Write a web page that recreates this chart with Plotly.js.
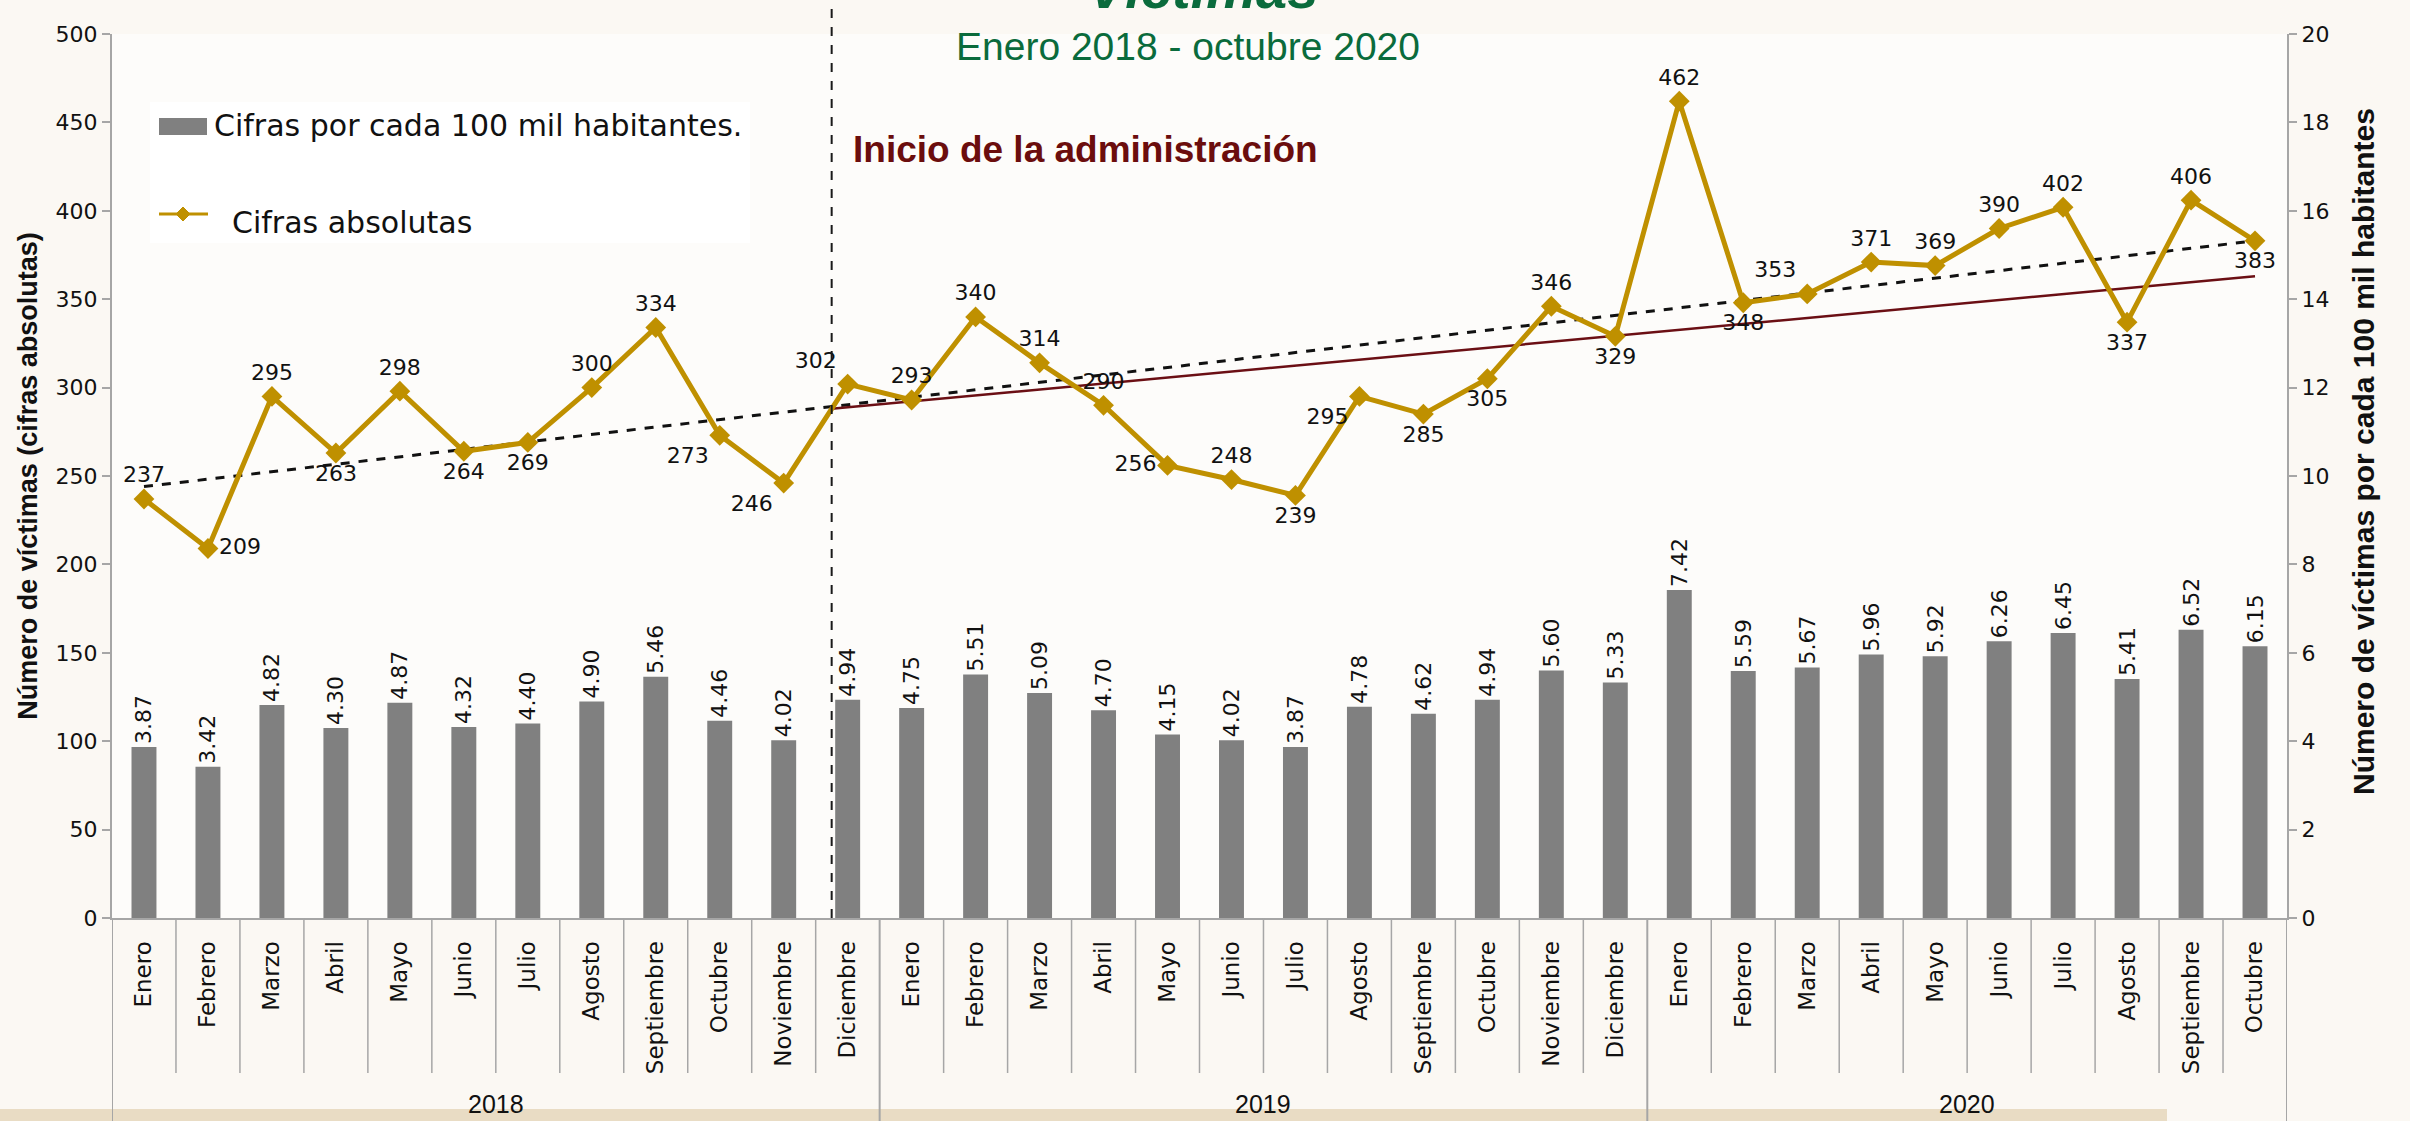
<!DOCTYPE html>
<html>
<head>
<meta charset="utf-8">
<script src="https://cdn.plot.ly/plotly-3.0.1.min.js"></script>
<style>html,body{margin:0;padding:0;background:#fbf8f3;}</style>
</head>
<body>
<div id="chart" style="width:2410px;height:1121px;"></div>
<script>
// ---- Data ----
const months = [
  "Enero","Febrero","Marzo","Abril","Mayo","Junio","Julio","Agosto","Septiembre","Octubre","Noviembre","Diciembre",
  "Enero","Febrero","Marzo","Abril","Mayo","Junio","Julio","Agosto","Septiembre","Octubre","Noviembre","Diciembre",
  "Enero","Febrero","Marzo","Abril","Mayo","Junio","Julio","Agosto","Septiembre","Octubre"
];
const years = [
  "2018","2018","2018","2018","2018","2018","2018","2018","2018","2018","2018","2018",
  "2019","2019","2019","2019","2019","2019","2019","2019","2019","2019","2019","2019",
  "2020","2020","2020","2020","2020","2020","2020","2020","2020","2020"
];
const cifrasAbsolutas = [
  237,209,295,263,298,264,269,300,334,273,246,302,
  293,340,314,290,256,248,239,295,285,305,346,329,
  462,348,353,371,369,390,402,337,406,383
];
const cifrasPor100mil = [
  3.87,3.42,4.82,4.30,4.87,4.32,4.40,4.90,5.46,4.46,4.02,4.94,
  4.75,5.51,5.09,4.70,4.15,4.02,3.87,4.78,4.62,4.94,5.60,5.33,
  7.42,5.59,5.67,5.96,5.92,6.26,6.45,5.41,6.52,6.15
];
const labelPositions = [
  "top center","middle right","top center","bottom center","top center","bottom center","bottom center","top center","top center","bottom left","bottom left","top left",
  "top center","top center","top center","top center","middle left","top center","bottom center","bottom left","bottom center","bottom center","top center","bottom center",
  "top center","bottom center","top left","top center","top center","top center","top center","bottom center","top center","bottom center"
];
const seriesNames = ["Cifras por cada 100 mil habitantes.", "Cifras absolutas"];
// Trend lines (values read at their end points)
const trendAllY = [244, 383];
const trendAdminY = [288, 363];
const adminStartIndex = 10.75;  // position of "Inicio de la administración" marker, in month-index units

// ---- Build ----
const idx = months.map((m, i) => i);
const lastIdx = idx[idx.length - 1];

// pixel -> paper helpers (plot area: x 112..2287, y 34..918)
const PX = px => (px - 112) / 2175;
const PY = py => (918 - py) / 884;

const GOLD = '#BF9000', BARGRAY = '#808080', AXISGRAY = '#a6a6a6';

const shapes = [];
// bottom beige band
shapes.push({type:'rect', xref:'paper', yref:'paper', x0:PX(0), x1:PX(2167), y0:PY(1109), y1:PY(1125),
  fillcolor:'#e9dcc4', line:{width:0}, layer:'below'});
// separators between months and years
idx.forEach(i => {
  const isYearStart = (i === 0) || (years[i] !== years[i-1]);
  shapes.push({type:'line', xref:'x', yref:'paper', x0:i-0.5, x1:i-0.5, y0:0, y1: isYearStart ? PY(1121) : PY(1073),
    line:{color:AXISGRAY, width: isYearStart ? 2 : 1.5}});
});
shapes.push({type:'line', xref:'x', yref:'paper', x0:lastIdx+0.5, x1:lastIdx+0.5, y0:0, y1:PY(1121), line:{color:AXISGRAY, width:2}});
// administration start dashed line
shapes.push({type:'line', xref:'x', yref:'paper', x0:adminStartIndex, x1:adminStartIndex, y0:0, y1:PY(0),
  line:{color:'#1a1a1a', width:2, dash:'dash'}});

// legend (drawn to match the reference's swatches)
shapes.push({type:'rect', xref:'paper', yref:'paper', x0:PX(150), x1:PX(750), y0:PY(243), y1:PY(102),
  fillcolor:'rgba(255,255,255,0.85)', line:{width:0}});
shapes.push({type:'rect', xref:'paper', yref:'paper', x0:PX(159), x1:PX(207), y0:PY(135), y1:PY(118),
  fillcolor:BARGRAY, line:{width:0}});
shapes.push({type:'line', xref:'paper', yref:'paper', x0:PX(159), x1:PX(208), y0:PY(214), y1:PY(214),
  line:{color:GOLD, width:3}});
(function(){
  const cx = 183, cy = 214, h = 7;
  shapes.push({type:'path', xref:'paper', yref:'paper',
    path:`M ${PX(cx)},${PY(cy-h)} L ${PX(cx+h)},${PY(cy)} L ${PX(cx)},${PY(cy+h)} L ${PX(cx-h)},${PY(cy)} Z`,
    fillcolor:GOLD, line:{color:GOLD, width:1}});
})();

// year labels
const yearAnnotations = [];
[...new Set(years)].forEach(y => {
  const first = years.indexOf(y), last = years.lastIndexOf(y);
  yearAnnotations.push({xref:'x', yref:'paper', x:(first+last)/2, y:PY(1104), text:y, showarrow:false,
    xanchor:'center', yanchor:'middle', font:{family:'Liberation Sans, Arial', size:25, color:'#111'}});
});

const traces = [
  {
    type:'bar', name:seriesNames[0], showlegend:false,
    x: idx, y: cifrasPor100mil, yaxis:'y', width:0.39,
    marker:{color:BARGRAY},
    text: cifrasPor100mil.map(v => v.toFixed(2)), textposition:'outside', textangle:-90, constraintext:'none',
    textfont:{family:'DejaVu Sans', size:22, color:'#111'}, cliponaxis:false, hoverinfo:'skip'
  },
  {
    type:'scatter', mode:'lines', x:[idx[0], lastIdx], y: trendAllY, yaxis:'y2',
    line:{color:'#111', width:3, dash:'dash'}, showlegend:false, hoverinfo:'skip'
  },
  {
    type:'scatter', mode:'lines', x:[adminStartIndex, lastIdx], y: trendAdminY, yaxis:'y2',
    line:{color:'#6b0f14', width:2.5}, showlegend:false, hoverinfo:'skip'
  },
  {
    type:'scatter', mode:'lines+markers+text', name:seriesNames[1], showlegend:false,
    x: idx, y: cifrasAbsolutas, yaxis:'y2',
    line:{color:GOLD, width:5},
    marker:{symbol:'diamond', size:16, color:GOLD},
    text: cifrasAbsolutas.map(String), textposition: labelPositions,
    textfont:{family:'DejaVu Sans', size:22, color:'#111'}, cliponaxis:false, hoverinfo:'skip'
  }
];

const axisCommon = {
  showline:true, linecolor:AXISGRAY, linewidth:2, ticks:'outside', ticklen:8, tickwidth:2, tickcolor:AXISGRAY,
  tickfont:{family:'DejaVu Sans', size:22, color:'#111'}, showgrid:false, zeroline:false
};

const layout = {
  width:2410, height:1121,
  margin:{l:112, r:123, t:34, b:203},
  paper_bgcolor:'#fbf8f3', plot_bgcolor:'rgba(255,255,255,0.55)',
  showlegend:false,
  xaxis:{type:'linear', range:[-0.5, lastIdx+0.5], tickmode:'array', tickvals:idx, ticktext:months,
    tickangle:-90, tickfont:{family:'DejaVu Sans', size:23, color:'#111'}, ticklabelstandoff:12,
    showline:true, linecolor:AXISGRAY, linewidth:2, ticks:'', showgrid:false, zeroline:false},
  yaxis:Object.assign({}, axisCommon, {range:[0,20], tick0:0, dtick:2, side:'right'}),
  yaxis2:Object.assign({}, axisCommon, {range:[0,500], tick0:0, dtick:50, side:'left', overlaying:'y',
    title:{text:'<b>Número de víctimas (cifras absolutas)</b>', standoff:10,
      font:{family:'Liberation Sans, Arial', size:27, color:'#111'}}}),
  shapes: shapes,
  annotations: [
    {xref:'paper', yref:'paper', x:PX(1203), y:PY(22), xanchor:'center', yanchor:'bottom', showarrow:false,
      text:'<b><i>Víctimas</i></b>', font:{family:'Liberation Sans, Arial', size:56, color:'#0a6b3c'}},
    {xref:'paper', yref:'paper', x:PX(1188), y:PY(47), xanchor:'center', yanchor:'middle', showarrow:false,
      text:'Enero 2018 - octubre 2020', font:{family:'Liberation Sans, Arial', size:39, color:'#0a6b3c'}},
    {xref:'paper', yref:'paper', x:PX(1085), y:PY(149), xanchor:'center', yanchor:'middle', showarrow:false,
      text:'<b>Inicio de la administración</b>', font:{family:'Liberation Sans, Arial', size:37, color:'#6b0d0d'}},
    {xref:'paper', yref:'paper', x:PX(2363), y:PY(452), xanchor:'center', yanchor:'middle', showarrow:false, textangle:-90,
      text:'<b>Número de víctimas por cada 100 mil habitantes</b>', font:{family:'Liberation Sans, Arial', size:30, color:'#111'}},
    {xref:'paper', yref:'paper', x:PX(212), y:PY(126), xanchor:'left', yanchor:'middle', showarrow:false,
      text:seriesNames[0], font:{family:'DejaVu Sans', size:30, color:'#111'}},
    {xref:'paper', yref:'paper', x:PX(230), y:PY(222), xanchor:'left', yanchor:'middle', showarrow:false,
      text:seriesNames[1], font:{family:'DejaVu Sans', size:30, color:'#111'}}
  ].concat(yearAnnotations)
};

Plotly.newPlot('chart', traces, layout, {displayModeBar:false, staticPlot:true});
</script>
</body>
</html>
